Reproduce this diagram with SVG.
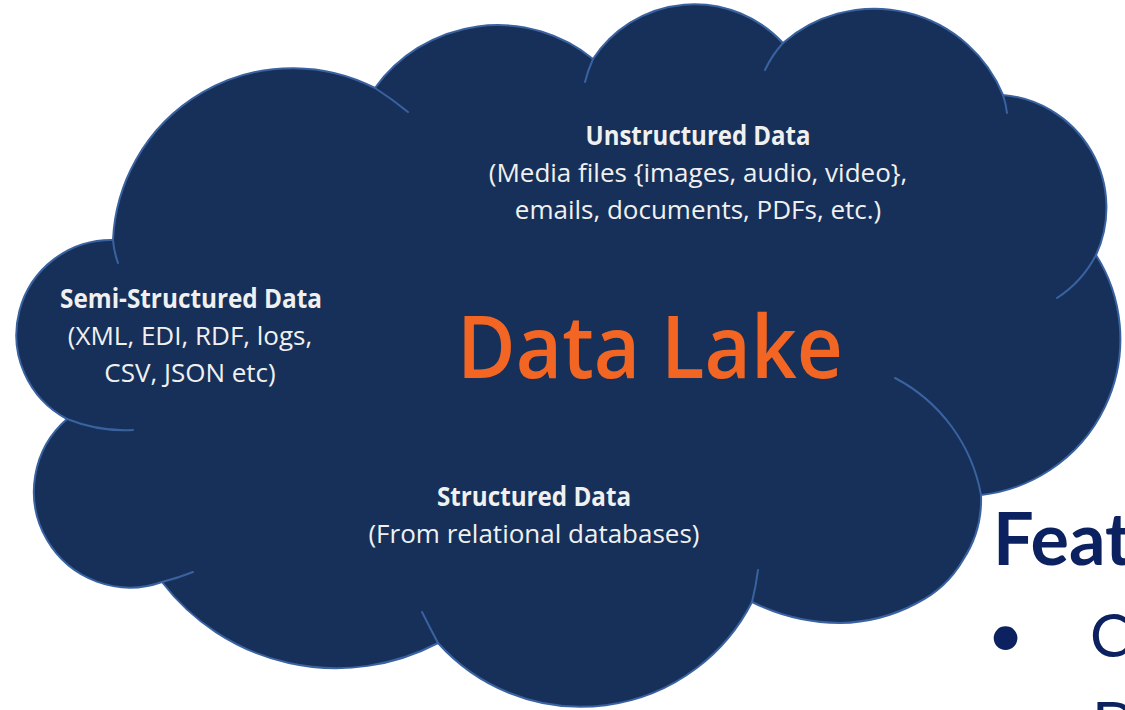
<svg xmlns="http://www.w3.org/2000/svg" width="1125" height="710" viewBox="0 0 1125 710">
  <style>
    .cloud { fill: #16305a; stroke: #3a62a0; stroke-width: 2; stroke-linejoin: round; }
    .inner { fill: none; stroke: #3a62a0; stroke-width: 2; stroke-linecap: round; }
    .lbl { font-family: "Open Sans", "Liberation Sans", sans-serif; fill: #f0f0f0; text-anchor: middle; font-size: 26px; }
    .lbl-b { font-weight: 700; }
    .lake { font-family: "Open Sans", "Liberation Sans", sans-serif; fill: #f26522; font-size: 86px; font-weight: 600; text-anchor: middle; }
    .feat { font-family: Lato, "Liberation Sans", sans-serif; fill: #0c2260; }
  </style>
  <rect width="1125" height="710" fill="#ffffff"/>
  <g id="cloud">
    <path class="cloud" d="M113 240 A180 180 0 0 1 375 88 A151 151 0 0 1 593 59 A121 121 0 0 1 783 43 A139 139 0 0 1 1003 95 A113 113 0 0 1 1096 255 A157 157 0 0 1 981 495 A110 110 0 0 1 963 560 A110 110 0 0 1 917 603 A170 170 0 0 1 840 623 A200 200 0 0 1 752 602 A192 192 0 0 1 438 643 A219 219 0 0 1 162 582 A96 96 0 0 1 67 419 A95 95 0 0 1 113 240 Z"/>
    <path class="inner" d="M113 240 Q114 252 118 263"/>
    <path class="inner" d="M375 88 Q392 99 408 112"/>
    <path class="inner" d="M593 59 Q588 70 585 82"/>
    <path class="inner" d="M783 43 Q772 55 765 70"/>
    <path class="inner" d="M1003 95 Q1006 104 1007 113"/>
    <path class="inner" d="M1096 255 A113 113 0 0 1 1057 298"/>
    <path class="inner" d="M895 378 A165 165 0 0 1 981 495"/>
    <path class="inner" d="M752 602 Q756 586 758 570"/>
    <path class="inner" d="M438 643 Q430 628 422 612"/>
    <path class="inner" d="M162 582 Q178 578 193 572"/>
    <path class="inner" d="M67 419 Q100 432 133 430"/>
  </g>
  <g id="connectors"/>
  <g id="unstructured">
    <text class="lbl lbl-b" x="698" y="145" textLength="225" lengthAdjust="spacingAndGlyphs">Unstructured Data</text>
    <text class="lbl" x="698" y="182">(Media files {images, audio, video},</text>
    <text class="lbl" x="698" y="219">emails, documents, PDFs, etc.)</text>
  </g>
  <g id="semi">
    <text class="lbl lbl-b" x="191" y="308" textLength="262" lengthAdjust="spacingAndGlyphs">Semi-Structured Data</text>
    <text class="lbl" x="190" y="345">(XML, EDI, RDF, logs,</text>
    <text class="lbl" x="190" y="382">CSV, JSON etc)</text>
  </g>
  <g id="datalake">
    <text class="lake" x="650" y="378" textLength="386" lengthAdjust="spacingAndGlyphs">Data Lake</text>
  </g>
  <g id="structured">
    <text class="lbl lbl-b" x="534" y="506" textLength="194" lengthAdjust="spacingAndGlyphs">Structured Data</text>
    <text class="lbl" x="534" y="543">(From relational databases)</text>
  </g>
  <g id="features">
    <text class="feat" x="993" y="565" font-size="72" font-weight="700">Feat</text>
    <text class="feat" x="987" y="657" font-size="64" font-family="Liberation Sans, sans-serif">•</text>
    <text class="feat" x="1090" y="657" font-size="60">C</text>
    <text class="feat" x="1092" y="745" font-size="60">D</text>
  </g>
</svg>
